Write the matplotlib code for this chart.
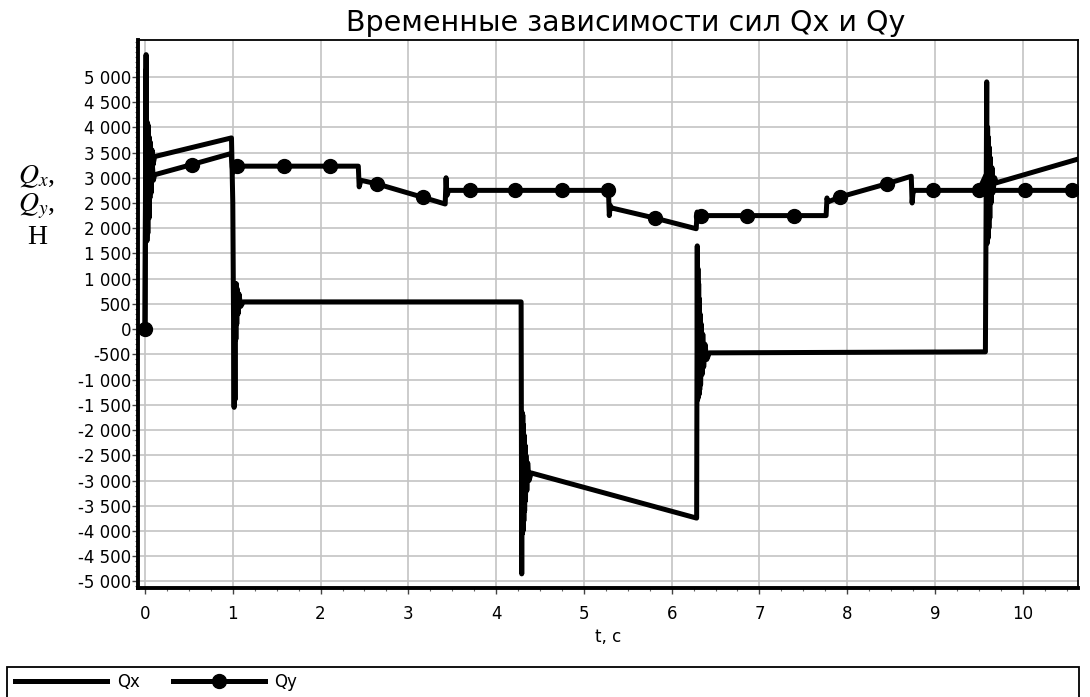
import matplotlib
matplotlib.use("Agg")
import matplotlib.pyplot as plt
from matplotlib.lines import Line2D
from matplotlib.patches import Rectangle
from matplotlib.ticker import MultipleLocator, FixedLocator, FuncFormatter

# Qx: time (s) and force (N)
qx_t = [0, 0.012, 0.02, 0.026, 0.032, 0.038, 0.044, 0.05, 0.056, 0.062,
        0.07, 0.08, 0.09, 0.11,
        0.985, 1.0, 1.015, 1.02, 1.025, 1.03, 1.035, 1.04, 1.045, 1.05,
        1.06, 1.07, 1.09, 1.12,
        4.285, 4.292, 4.296, 4.30, 4.304, 4.308, 4.312, 4.316, 4.32, 4.325,
        4.33, 4.335, 4.34, 4.35, 4.36, 4.375, 4.40,
        6.285, 6.292, 6.296, 6.30, 6.304, 6.308, 6.312, 6.316, 6.32, 6.325,
        6.33, 6.338, 6.346, 6.355, 6.365, 6.38, 6.40, 6.43,
        9.575, 9.59, 9.595, 9.60, 9.605, 9.61, 9.615, 9.62, 9.625, 9.63,
        9.64, 9.65, 9.66, 9.68, 9.70,
        10.61]
qx_v = [0, 5440, 1800, 4100, 1900, 4000, 2500, 3800, 2600, 3700,
        2900, 3550, 3250, 3420,
        3790, 2500, -1550, 400, -1400, 900, -200, 900, 100, 800,
        300, 700, 450, 540,
        540, -4850, -1650, -4050, -1700, -4000, -1900, -3800, -2100, -3600,
        -2300, -3400, -2500, -3200, -2650, -3000, -2850,
        -3745, 1650, -1400, 1200, -1350, 900, -1300, 600, -1200, 300,
        -1100, 100, -900, -100, -750, -300, -600, -470,
        -450, 4900, 1700, 4000, 1800, 3800, 2000, 3600, 2200, 3400,
        2500, 3200, 2700, 3000, 2900,
        3360]

# Qy
qy_t = [0, 0.01, 0.022, 0.034, 0.046, 0.058, 0.07, 0.082, 0.095, 0.11,
        0.53, 0.98, 1.0, 1.02, 1.035, 1.05, 1.58, 2.11, 2.43, 2.44, 2.46,
        2.64, 3.17, 3.42, 3.43, 3.44, 3.46, 3.70, 4.22, 4.75, 5.28,
        5.29, 5.30, 5.32, 5.81, 6.28, 6.29, 6.30, 6.31, 6.34, 6.86, 7.39,
        7.76, 7.77, 7.78, 7.92, 8.45, 8.73, 8.74, 8.75, 8.77, 8.98, 9.50,
        9.58, 9.60, 9.62, 9.64, 10.03, 10.56]
qy_v = [0, 5150, 1750, 4050, 2200, 3600, 2700, 3300, 2950, 3060,
        3260, 3480, 3100, 3300, 3180, 3230, 3230, 3230, 3230, 2820, 2950,
        2880, 2610, 2480, 3000, 2650, 2750, 2750, 2750, 2750, 2750,
        2250, 2450, 2400, 2200, 1990, 2320, 2180, 2250, 2250, 2250, 2250,
        2250, 2600, 2520, 2620, 2880, 3030, 2500, 2700, 2750, 2750, 2750,
        3050, 2550, 2850, 2750, 2750, 2750]

# times where the Qy markers sit
qy_mark_t = [0, 0.53, 1.05, 1.58, 2.11, 2.64, 3.17, 3.70, 4.22, 4.75, 5.28,
             5.81, 6.34, 6.86, 7.39, 7.92, 8.45, 8.98, 9.50, 10.03, 10.56]

x_ticks = [0, 1, 2, 3, 4, 5, 6, 7, 8, 9, 10]
y_ticks = list(range(-5000, 5001, 500))

plt.rcParams["mathtext.fontset"] = "stix"

W, H = 1090, 697
fig = plt.figure(figsize=(W / 100, H / 100), dpi=100)
ax = fig.add_axes([138 / W, 1 - 588 / H, (1078 - 138) / W, (588 - 40) / H])

mark_idx = [qy_t.index(t) for t in qy_mark_t]
ax.plot(qx_t, qx_v, color="black", lw=3.6)
ax.plot(qy_t, qy_v, color="black", lw=3.6, marker="o", ms=10,
        markevery=mark_idx)

ax.set_xlim(-0.08, 10.63)
ax.set_ylim(-5130, 5730)
ax.xaxis.set_major_locator(FixedLocator(x_ticks))
ax.xaxis.set_minor_locator(MultipleLocator(0.25))
ax.yaxis.set_major_locator(FixedLocator(y_ticks))
ax.yaxis.set_minor_locator(MultipleLocator(100))
ax.yaxis.set_major_formatter(
    FuncFormatter(lambda v, _: f"{int(round(v)):,}".replace(",", " ")))

ax.grid(which="major", color="#c4c4c4", lw=1.2)
ax.set_axisbelow(True)
ax.tick_params(which="major", length=4, width=1, color="#444444", labelsize=12)
ax.tick_params(which="minor", length=2.5, width=0.8, color="#666666")
ax.tick_params(axis="x", which="major", pad=8)
ax.tick_params(axis="y", which="major", pad=1)

for side in ("left", "bottom"):
    ax.spines[side].set_linewidth(2.8)
for side in ("top", "right"):
    ax.spines[side].set_linewidth(1.3)

ax.set_xlabel("t, c", fontsize=12, labelpad=4)

fig.text(626 / W, 1 - 23 / H, "Временные зависимости сил Qx и Qy",
         ha="center", va="center", fontsize=20.5)

# y label stacked as three lines
ylab_font = dict(family="Liberation Serif", fontsize=20, ha="center", va="center")
fig.text(37 / W, 1 - 177 / H, r"$Q_x$,", **ylab_font)
fig.text(37 / W, 1 - 206 / H, r"$Q_y$,", **ylab_font)
fig.text(37 / W, 1 - 237 / H, "Н", **ylab_font)

# legend in a box cut by the bottom edge
fig.add_artist(Rectangle((7 / W, -0.1), (1079 - 7) / W, 0.1 + (1 - 667 / H),
                         transform=fig.transFigure, fill=False,
                         edgecolor="black", lw=1.3))
handles = [Line2D([], [], color="black", lw=3.6),
           Line2D([], [], color="black", lw=3.6, marker="o", ms=10)]
fig.legend(handles, ["Qx", "Qy"], loc="upper left",
           bbox_to_anchor=(15 / W, 1 - 673 / H), ncol=2, frameon=False,
           fontsize=12, handlelength=5.5, handletextpad=0.6,
           columnspacing=2.0, borderpad=0, borderaxespad=0, markerscale=1)

fig.savefig("out.png", dpi=100)
